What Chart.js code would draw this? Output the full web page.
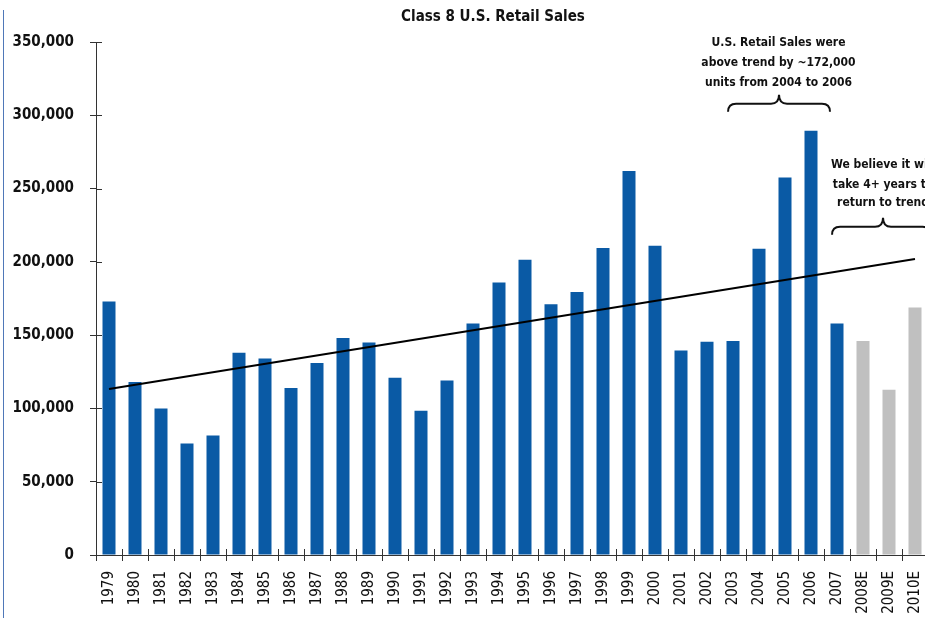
<!DOCTYPE html>
<html>
<head>
<meta charset="utf-8">
<script src="https://cdn.jsdelivr.net/npm/chart.js@4"></script>
<style>
    html, body { margin: 0; padding: 0; background: #fff; overflow: hidden; }
    #wrap { position: relative; width: 925px; height: 618px; overflow: hidden; }
    #edge { position: absolute; left: 3px; top: 10px; width: 1px; height: 608px; background: #4f78b8; }
    #box { position: absolute; left: 0; top: 0; width: 940px; height: 618px; }
</style>
</head>
<body>
<div id="wrap">
    <div id="box"><canvas id="salesChart" width="940" height="618"></canvas></div>
    <div id="edge"></div>
</div>
<script>
(function salesChart () {
    'use strict';

    var years = ['1979', '1980', '1981', '1982', '1983', '1984', '1985', '1986', '1987', '1988',
        '1989', '1990', '1991', '1992', '1993', '1994', '1995', '1996', '1997', '1998',
        '1999', '2000', '2001', '2002', '2003', '2004', '2005', '2006', '2007',
        '2008E', '2009E', '2010E'];
    var retailSales = [173000, 118000, 100000, 76000, 81500, 138000, 134000, 114000, 131000, 148000,
        145000, 121000, 98500, 119000, 158000, 186000, 201500, 171000, 179500, 209500,
        262000, 211000, 139500, 145500, 146000, 209000, 257500, 289500, 158000,
        146000, 112800, 168800];
    var trendEnds = [113300, 202000];
    var yTicks = [0, 50000, 100000, 150000, 200000, 250000, 300000, 350000];

    var FONT = "'Liberation Sans Narrow', 'DejaVu Sans Condensed', 'Liberation Sans', sans-serif";
    var BLUE = '#0a5aa5';
    var GREY = '#c0c0c0';

    var trend = years.map(function (y, i) {
        if (i === 0) { return trendEnds[0]; }
        if (i === years.length - 1) { return trendEnds[1]; }
        return null;
    });
    var barColors = years.map(function (y) {
        return y.indexOf('E') > -1 ? GREY : BLUE;
    });

    // notes placed in data units: x = category index, y = units
    var notes = [
        {
            lines: ['U.S. Retail Sales were', 'above trend by ~172,000', 'units from 2004 to 2006'],
            x: 25.75, ys: [349500, 335900, 322200],
            brace: { x1: 23.81, x2: 27.73, xm: 25.77, yb: 302400, yh: 307900, yt: 314000 }
        },
        {
            lines: ['We believe it will', 'take 4+ years to', 'return to trend'],
            x: 29.77, ys: [266300, 252600, 240300],
            brace: { x1: 27.81, x2: 31.6, xm: 29.77, yb: 218500, yh: 223900, yt: 230100 }
        }
    ];

    function drawBrace (c, b) {
        var r = 8;
        c.beginPath();
        c.moveTo(b.x1, b.yb);
        c.quadraticCurveTo(b.x1, b.yh, b.x1 + r, b.yh);
        c.lineTo(b.xm - r, b.yh);
        c.quadraticCurveTo(b.xm, b.yh, b.xm, b.yt);
        c.quadraticCurveTo(b.xm, b.yh, b.xm + r, b.yh);
        c.lineTo(b.x2 - r, b.yh);
        c.quadraticCurveTo(b.x2, b.yh, b.x2, b.yb);
        c.stroke();
    }

    var extras = {
        id: 'extras',
        afterDraw: function (chart) {
            var c = chart.ctx;
            var xs = chart.scales.x;
            var ys = chart.scales.y;
            var area = chart.chartArea;
            var i;

            c.save();
            // inner halves of the crossing tick marks
            c.strokeStyle = '#333';
            c.lineWidth = 1;
            c.beginPath();
            for (i = 0; i < yTicks.length; i++) {
                var py = Math.round(ys.getPixelForValue(yTicks[i])) + 0.5;
                c.moveTo(area.left, py);
                c.lineTo(area.left + 6, py);
            }
            for (i = 0; i < years.length; i++) {
                var px = Math.round(xs.getPixelForValue(i - 0.5)) + 0.5;
                c.moveTo(px, area.bottom);
                c.lineTo(px, area.bottom - 6);
            }
            c.stroke();

            // title
            c.fillStyle = '#111';
            c.textAlign = 'center';
            c.textBaseline = 'middle';
            c.font = 'bold 15px ' + FONT;
            c.fillText('Class 8 U.S. Retail Sales', 493, 17);

            // annotations
            c.font = 'bold 12px ' + FONT;
            c.strokeStyle = '#111';
            c.lineWidth = 2;
            notes.forEach(function (n) {
                var cx = xs.getPixelForValue(n.x);
                n.lines.forEach(function (t, k) {
                    c.fillText(t, cx, ys.getPixelForValue(n.ys[k]));
                });
                drawBrace(c, {
                    x1: xs.getPixelForValue(n.brace.x1),
                    x2: xs.getPixelForValue(n.brace.x2),
                    xm: xs.getPixelForValue(n.brace.xm),
                    yb: ys.getPixelForValue(n.brace.yb),
                    yh: ys.getPixelForValue(n.brace.yh),
                    yt: ys.getPixelForValue(n.brace.yt)
                });
            });
            c.restore();
        }
    };

    var ctx = document.getElementById('salesChart').getContext('2d');

    new Chart(ctx, {
        type: 'bar',
        data: {
            labels: years,
            datasets: [{
                type: 'line',
                data: trend,
                spanGaps: true,
                borderColor: '#000',
                borderWidth: 2,
                pointRadius: 0,
                order: 0
            }, {
                data: retailSales,
                backgroundColor: barColors,
                barPercentage: 0.5,
                categoryPercentage: 1,
                order: 1
            }]
        },
        options: {
            responsive: false,
            animation: false,
            layout: { padding: { top: 42, right: 12, left: 0, bottom: 0 } },
            plugins: {
                legend: { display: false },
                tooltip: { enabled: false }
            },
            scales: {
                x: {
                    afterFit: function (scale) {
                        scale.height = 63;
                        scale.paddingLeft = 0;
                        scale.paddingRight = 0;
                    },
                    border: { display: true, color: '#333', width: 1 },
                    grid: { drawOnChartArea: false, drawTicks: true, tickLength: 6, color: '#333', offset: true },
                    ticks: {
                        color: '#111',
                        padding: 10,
                        minRotation: 90,
                        maxRotation: 90,
                        autoSkip: false,
                        font: { family: FONT, size: 15 }
                    }
                },
                y: {
                    min: 0,
                    max: 350000,
                    afterFit: function (scale) {
                        scale.width = 96;
                        scale.paddingTop = 0;
                        scale.paddingBottom = 0;
                    },
                    afterBuildTicks: function (scale) {
                        scale.ticks = yTicks.map(function (v) { return { value: v }; });
                    },
                    border: { display: true, color: '#333', width: 1 },
                    grid: { drawOnChartArea: false, drawTicks: true, tickLength: 6, color: '#333' },
                    ticks: {
                        color: '#111',
                        padding: 16,
                        font: { family: FONT, size: 15, weight: 'bold' },
                        callback: function (v) { return v.toLocaleString('en-US'); }
                    }
                }
            }
        },
        plugins: [extras]
    });
}());
</script>
</body>
</html>
